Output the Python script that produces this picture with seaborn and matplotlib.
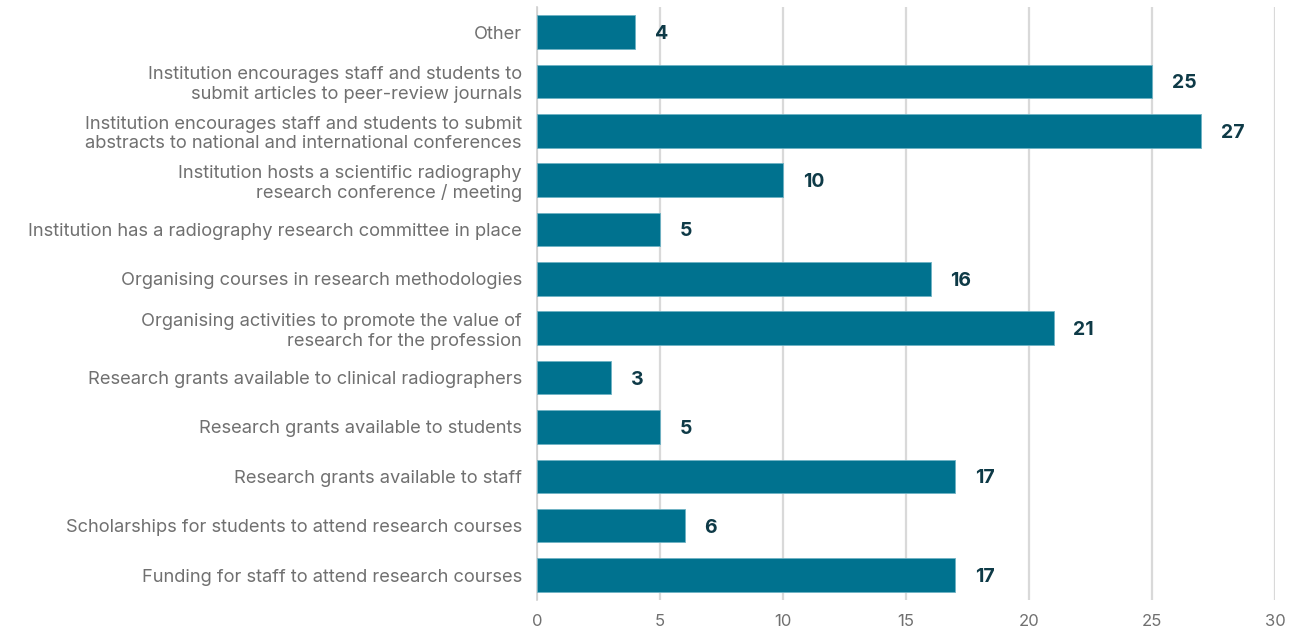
import matplotlib
matplotlib.use("Agg")
import matplotlib.pyplot as plt
import seaborn as sns
import pandas as pd
import numpy as np

categories = [
    "Other",
    "Institution encourages staff and students to\nsubmit articles to peer-review journals",
    "Institution encourages staff and students to submit\nabstracts to national and international conferences",
    "Institution hosts a scientific radiography\nresearch conference / meeting",
    "Institution has a radiography research committee in place",
    "Organising courses in research methodologies",
    "Organising activities to promote the value of\nresearch for the profession",
    "Research grants available to clinical radiographers",
    "Research grants available to students",
    "Research grants available to staff",
    "Scholarships for students to attend research courses",
    "Funding for staff to attend research courses",
]
counts = [4, 25, 27, 10, 5, 16, 21, 3, 5, 17, 6, 17]
x_ticks = [0, 5, 10, 15, 20, 25, 30]

df = pd.DataFrame({"category": categories, "count": counts})

sns.set_theme(style="white")
plt.rcParams["font.family"] = ["Inter", "DejaVu Sans"]

fig = plt.figure(figsize=(12.96, 6.32), dpi=100)
ax = fig.add_axes([0.4144, 0.0511, 0.5694, 0.9373])

bar_color = "#00728f"
sns.barplot(data=df, x="count", y="category", color=bar_color, width=0.68,
            saturation=1, ax=ax, zorder=3, edgecolor="#6fb3c4", linewidth=0.6)

ax.set_xlim(0, 30)
ax.set_ylim(len(categories) - 0.5, -0.5)
ax.set_xticks(x_ticks)
ax.set_xticklabels([str(t) for t in x_ticks])
ax.xaxis.grid(True, color="#d9d9d9", linewidth=1.6, zorder=0)
ax.yaxis.grid(False)
ax.set_axisbelow(True)

for side in ["top", "right", "bottom"]:
    ax.spines[side].set_visible(False)
ax.spines["left"].set_color("#d0d0d0")
ax.spines["left"].set_linewidth(1.2)

ax.set_xlabel("")
ax.set_ylabel("")
ax.tick_params(axis="x", length=0, labelsize=12, labelcolor="#707070", pad=10)
ax.tick_params(axis="y", which="major", length=0, labelsize=13.2,
               labelcolor="#707070", pad=11)
ax.set_yticks(np.arange(-0.5, len(categories), 1.0), minor=True)
ax.tick_params(axis="y", which="minor", length=5, color="#d0d0d0", width=1.2)
for lbl in ax.get_yticklabels():
    lbl.set_linespacing(1.2)

for i, v in enumerate(counts):
    ax.text(v + 0.8, i, str(v), va="center_baseline", ha="left", fontsize=14,
            fontweight="bold", color="#0e3a47")

fig.savefig("out.png", dpi=100)
